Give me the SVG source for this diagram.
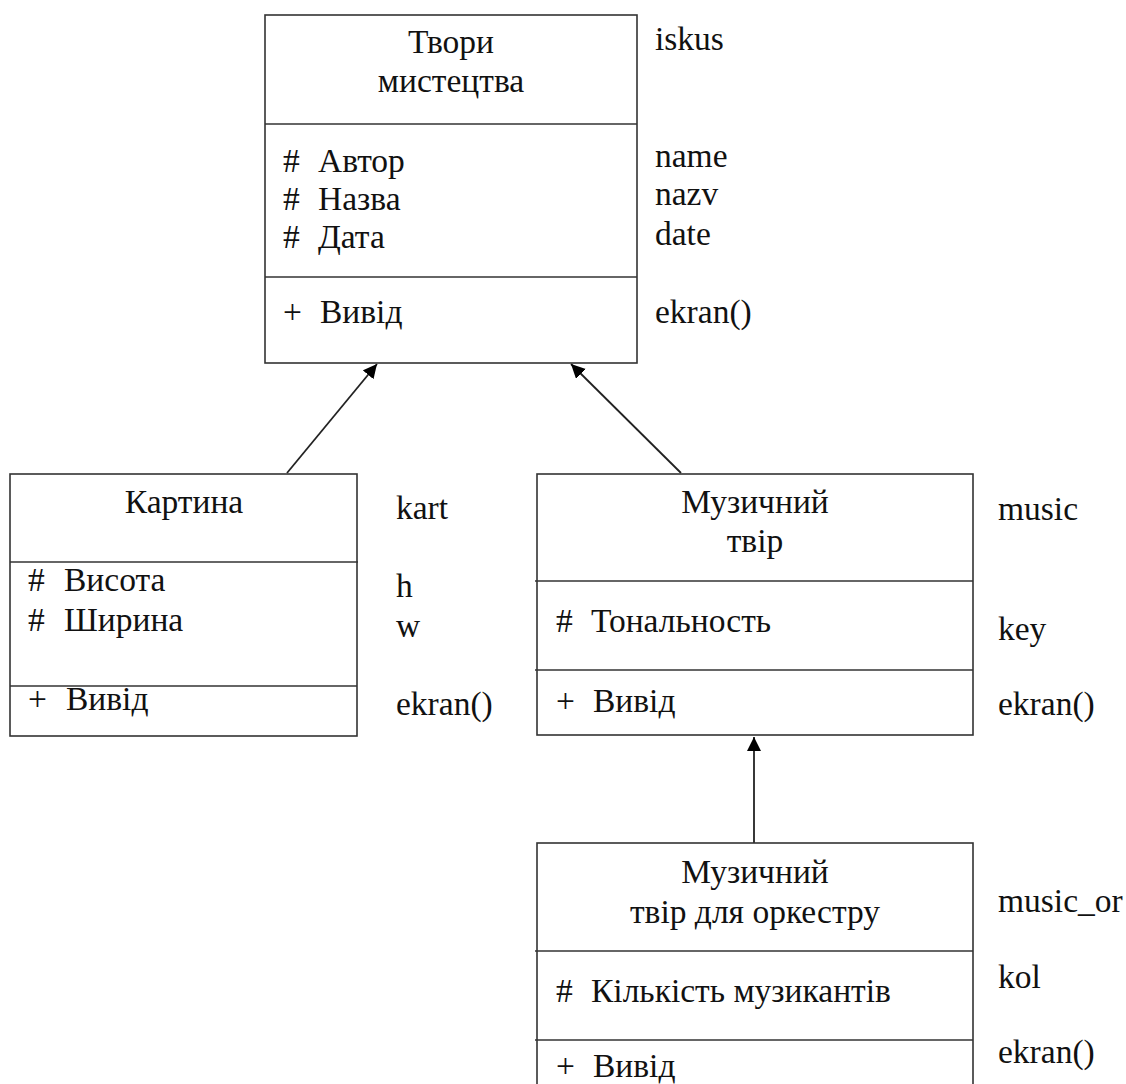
<svg xmlns="http://www.w3.org/2000/svg" width="1126" height="1084" viewBox="0 0 1126 1084">
<style>
.box{fill:#fff;stroke:#333;stroke-width:1.6}
.div{stroke:#333;stroke-width:1.6}
text{font-family:"Liberation Serif","Times New Roman",serif;font-size:33.5px;fill:#111}
.c{text-anchor:middle}
.conn{stroke:#222;stroke-width:1.8;fill:none}
</style>
<defs>
<marker id="ah" markerUnits="userSpaceOnUse" markerWidth="16" markerHeight="15" refX="14" refY="7" orient="auto">
<path d="M0,0 L14,7 L0,14 z" fill="#000"/>
</marker>
</defs>
<g id="connectors">
<line class="conn" x1="287" y1="473" x2="377" y2="364" marker-end="url(#ah)"/>
<line class="conn" x1="681" y1="473" x2="571" y2="364" marker-end="url(#ah)"/>
<line class="conn" x1="754" y1="843" x2="754" y2="737" marker-end="url(#ah)"/>
</g>
<g id="iskus">
<rect class="box" x="265" y="15" width="372" height="348"/>
<line class="div" x1="265" y1="124" x2="637" y2="124"/>
<line class="div" x1="265" y1="277" x2="637" y2="277"/>
<text class="c" x="451" y="53">Твори</text>
<text class="c" x="451" y="92">мистецтва</text>
<text x="283" y="172">#</text><text x="318" y="172">Автор</text>
<text x="283" y="210">#</text><text x="318" y="210">Назва</text>
<text x="283" y="248">#</text><text x="318" y="248">Дата</text>
<text x="283" y="323">+</text><text x="320" y="323">Вивід</text>
<text x="655" y="50">iskus</text>
<text x="655" y="167">name</text>
<text x="655" y="205">nazv</text>
<text x="655" y="245">date</text>
<text x="655" y="323">ekran()</text>
</g>
<g id="kart">
<rect class="box" x="10" y="474" width="347" height="262"/>
<line class="div" x1="10" y1="562" x2="358" y2="562"/>
<line class="div" x1="10" y1="686" x2="357" y2="686"/>
<text class="c" x="184" y="513">Картина</text>
<text x="28" y="591">#</text><text x="64" y="591">Висота</text>
<text x="28" y="631">#</text><text x="64" y="631">Ширина</text>
<text x="28" y="710">+</text><text x="66" y="710">Вивід</text>
<text x="396" y="519">kart</text>
<text x="396" y="597">h</text>
<text x="396" y="637">w</text>
<text x="396" y="715">ekran()</text>
</g>
<g id="music">
<rect class="box" x="537" y="474" width="436" height="261"/>
<line class="div" x1="535" y1="581" x2="973" y2="581"/>
<line class="div" x1="535" y1="670" x2="973" y2="670"/>
<text class="c" x="755" y="513">Музичний</text>
<text class="c" x="755" y="552">твір</text>
<text x="556" y="632">#</text><text x="591" y="632">Тональность</text>
<text x="556" y="712">+</text><text x="593" y="712">Вивід</text>
<text x="998" y="520">music</text>
<text x="998" y="640">key</text>
<text x="998" y="715">ekran()</text>
</g>
<g id="music_or">
<rect class="box" x="537" y="843" width="436" height="260"/>
<line class="div" x1="535" y1="951" x2="973" y2="951"/>
<line class="div" x1="535" y1="1040" x2="973" y2="1040"/>
<text class="c" x="755" y="883">Музичний</text>
<text class="c" x="755" y="923">твір для оркестру</text>
<text x="556" y="1002">#</text><text x="591" y="1002">Кількість музикантів</text>
<text x="556" y="1077">+</text><text x="593" y="1077">Вивід</text>
<text x="998" y="912">music_or</text>
<text x="998" y="988">kol</text>
<text x="998" y="1063">ekran()</text>
</g>
</svg>
